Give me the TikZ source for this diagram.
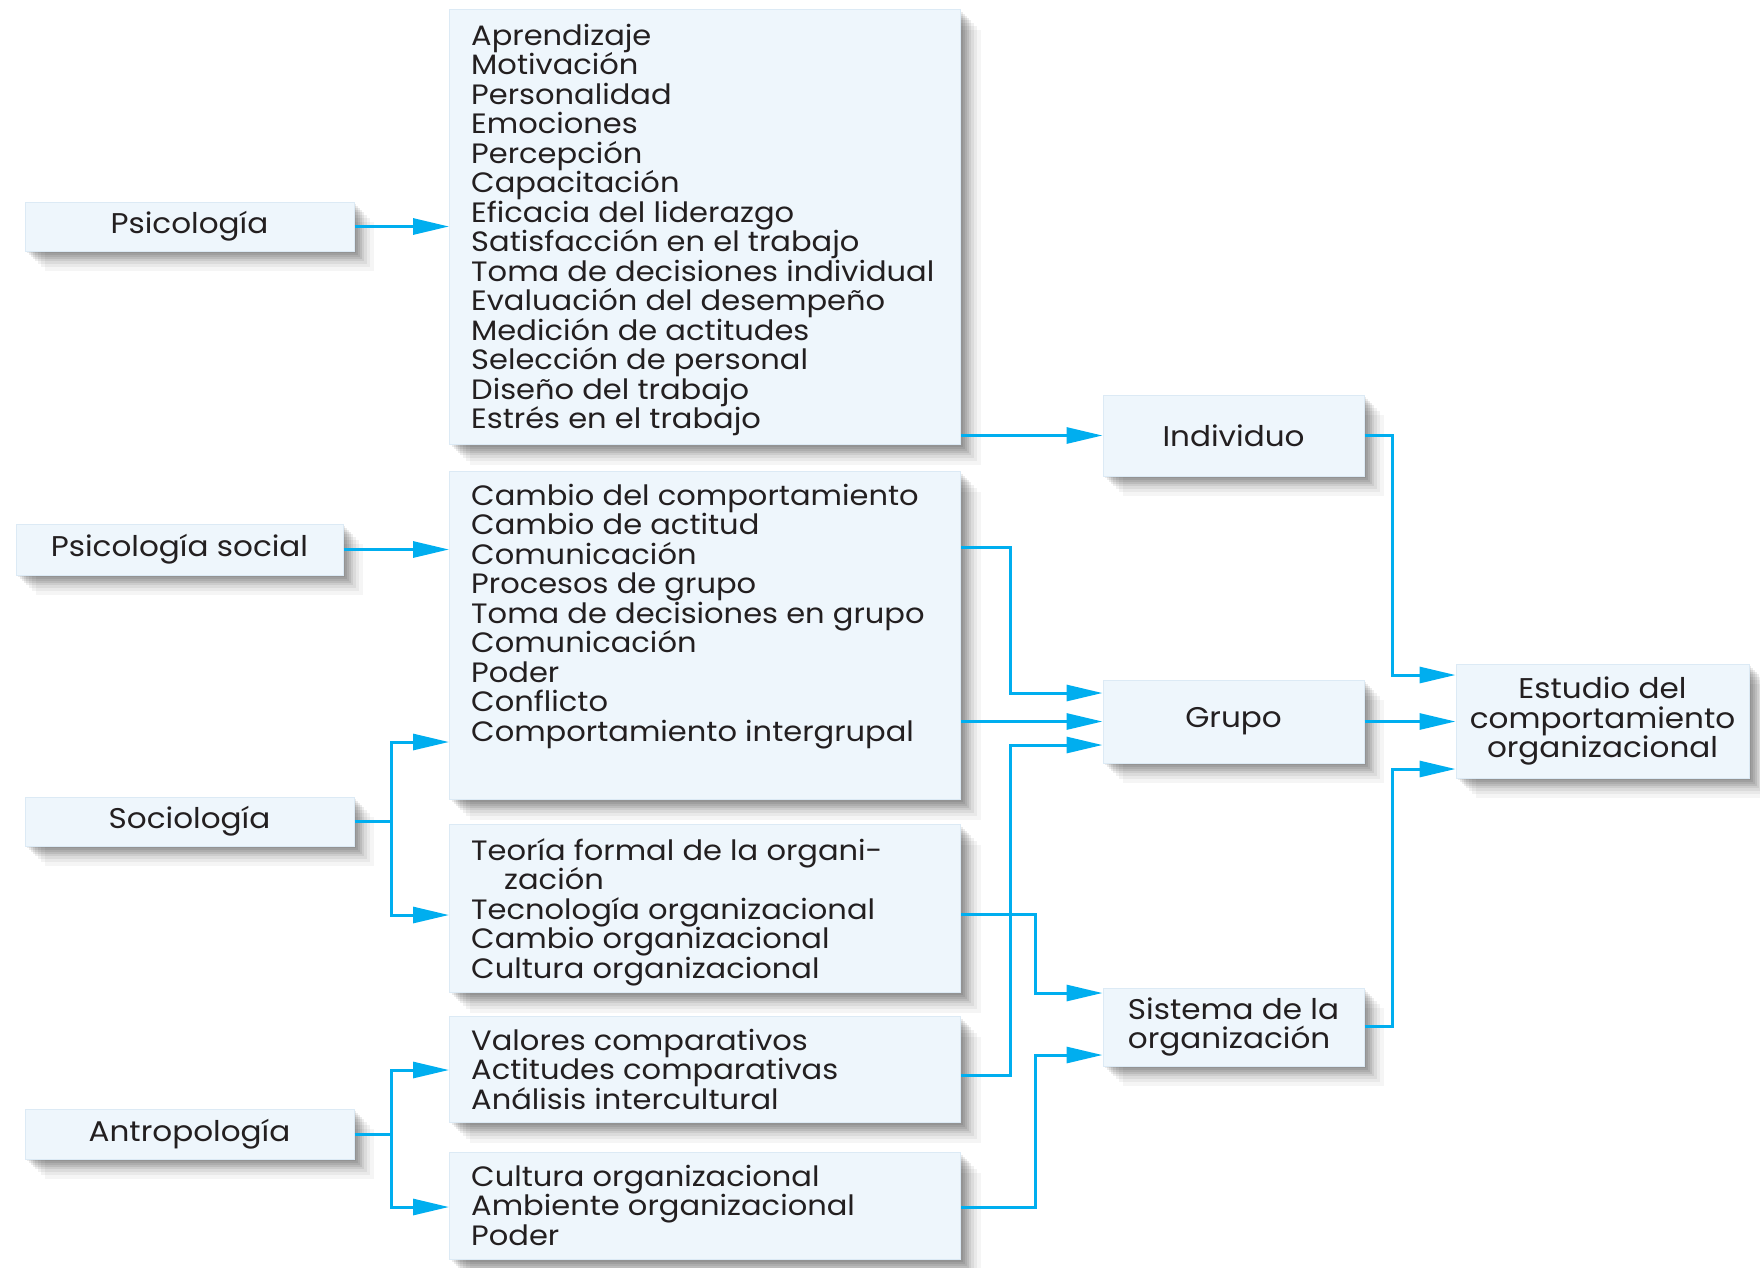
\documentclass[tikz,border=0pt]{standalone}
\usepackage{fontspec}
\setmainfont{Poppins}[FakeStretch=1.09]
\usetikzlibrary{arrows.meta,shadows}
\definecolor{boxfill}{HTML}{EEF6FC}
\definecolor{boxedge}{HTML}{DCEAF5}
\definecolor{arrowc}{HTML}{00AEEF}
\definecolor{txt}{HTML}{231F20}
\newcommand\stk[1]{\vtop{\baselineskip=29.5pt\lineskiplimit=-\maxdimen\lineskip=0pt\halign{##\hfil\cr#1\crcr}}}
\begin{document}
\begin{tikzpicture}[x=1pt,y=-1pt,
  shady/.style={general shadow={shadow xshift=2pt,shadow yshift=-2pt,fill=black,opacity=0.08},
                general shadow={shadow xshift=4pt,shadow yshift=-4pt,fill=black,opacity=0.08},
                general shadow={shadow xshift=6pt,shadow yshift=-6pt,fill=black,opacity=0.08},
                general shadow={shadow xshift=8pt,shadow yshift=-8pt,fill=black,opacity=0.08},
                general shadow={shadow xshift=10pt,shadow yshift=-10pt,fill=black,opacity=0.07},
                general shadow={shadow xshift=13pt,shadow yshift=-13pt,fill=black,opacity=0.06},
                general shadow={shadow xshift=16pt,shadow yshift=-16pt,fill=black,opacity=0.05},
                general shadow={shadow xshift=20pt,shadow yshift=-20pt,fill=black,opacity=0.04}},
  box/.style={shady,rectangle,fill=boxfill,draw=boxedge,line width=1pt,inner sep=0pt},
  lbl/.style={box,text=txt,font=\fontsize{28.5}{29.5}\selectfont,align=center},
  big/.style={box,anchor=north west,minimum width=511pt},
  lst/.style={anchor=base west,inner sep=0pt,text=txt,font=\fontsize{28}{29.5}\selectfont},
  arr/.style={draw=arrowc,line width=3pt,-{Triangle[length=36pt,width=16pt]}},
  ln/.style={draw=arrowc,line width=3pt}]
\useasboundingbox (0,0) rectangle (1760,1267);

% left nodes
\node[lbl,minimum width=329pt,minimum height=49pt] (psi) at (189.5,226.5) {Psicología};
\node[lbl,minimum width=327pt,minimum height=51pt] (psoc) at (179.5,549.5) {Psicología social};
\node[lbl,minimum width=329pt,minimum height=49pt] (soc) at (189.5,821.5) {Sociología};
\node[lbl,minimum width=329pt,minimum height=50pt] (ant) at (189.5,1134) {Antropología};

% big boxes
\node[big,minimum height=435pt] (b1) at (449,9) {};
\node[big,minimum height=328pt] (b2) at (449,471) {};
\node[big,minimum height=168pt] (b3) at (449,824) {};
\node[big,minimum height=106pt] (b4) at (449,1016) {};
\node[big,minimum height=107pt] (b5) at (449,1152) {};

\node[lst] (t1) at (471,45) {\stk{Aprendizaje\cr Motivación\cr Personalidad\cr Emociones\cr Percepción\cr Capacitación\cr Eficacia del liderazgo\cr Satisfacción en el trabajo\cr Toma de decisiones individual\cr Evaluación del desempeño\cr Medición de actitudes\cr Selección de personal\cr Diseño del trabajo\cr Estrés en el trabajo}};
\node[lst] (t2) at (471,505) {\stk{Cambio del comportamiento\cr Cambio de actitud\cr Comunicación\cr Procesos de grupo\cr Toma de decisiones en grupo\cr Comunicación\cr Poder\cr Conflicto\cr Comportamiento intergrupal}};
\node[lst] (t3) at (471,860) {\stk{Teoría formal de la organi-\cr \hspace*{33pt}zación\cr Tecnología organizacional\cr Cambio organizacional\cr Cultura organizacional}};
\node[lst] (t4) at (471,1050) {\stk{Valores comparativos\cr Actitudes comparativas\cr Análisis intercultural}};
\node[lst] (t5) at (471,1186) {\stk{Cultura organizacional\cr Ambiente organizacional\cr Poder}};

% right nodes
\node[lbl,minimum width=261pt,minimum height=81pt] (ind) at (1233.5,435.5) {Individuo};
\node[lbl,minimum width=261pt,minimum height=83pt] (grp) at (1233.5,721.5) {Grupo};
\node[lbl,minimum width=261pt,minimum height=78pt,align=left] (sis) at (1233.5,1027) {Sistema de la\\organización};
\node[lbl,minimum width=293pt,minimum height=114pt] (est) at (1602.5,721) {Estudio del\\comportamiento\\organizacional};

% bus coordinates
\coordinate (socx) at (391,821.5);
\coordinate (antx) at (391,1134);
\coordinate (gx) at (1010,0);
\coordinate (sx) at (1035,0);
\coordinate (ex) at (1392,0);

% arrows
\draw[arr] (psi.east) -- (psi.east -| b1.west);
\draw[arr] (psoc.east) -- (psoc.east -| b2.west);
\draw[arr] (b1.east |- ind) -- (ind.west);

\draw[ln] (soc.east) -- (socx);
\draw[arr] (socx |- 0,915) -- (socx |- 0,742) -- (b2.west |- 0,742);
\draw[arr] (socx |- 0,742) -- (socx |- 0,915) -- (b3.west |- 0,915);

\draw[ln] (ant.east) -- (antx);
\draw[arr] (antx |- 0,1207) -- (antx |- 0,1070) -- (b4.west |- 0,1070);
\draw[arr] (antx |- 0,1070) -- (antx |- 0,1207) -- (b5.west |- 0,1207);

\draw[arr] (b2.east |- 0,547) -- (gx |- 0,547) -- (gx |- 0,693) -- (grp.west |- 0,693);
\draw[arr] (b2.east |- grp) -- (grp.west);
\draw[arr] (b4.east |- 0,1075) -- (gx |- 0,1075) -- (gx |- 0,745) -- (grp.west |- 0,745);

\draw[arr] (b3.east |- 0,914) -- (sx |- 0,914) -- (sx |- 0,993) -- (sis.west |- 0,993);
\draw[arr] (b5.east |- 0,1207) -- (sx |- 0,1207) -- (sx |- 0,1055) -- (sis.west |- 0,1055);

\draw[arr] (ind.east) -- (ex |- ind) -- (ex |- 0,675) -- (est.west |- 0,675);
\draw[arr] (grp.east) -- (est.west |- grp);
\draw[arr] (sis.east |- 0,1026) -- (ex |- 0,1026) -- (ex |- 0,769) -- (est.west |- 0,769);
\end{tikzpicture}
\end{document}
